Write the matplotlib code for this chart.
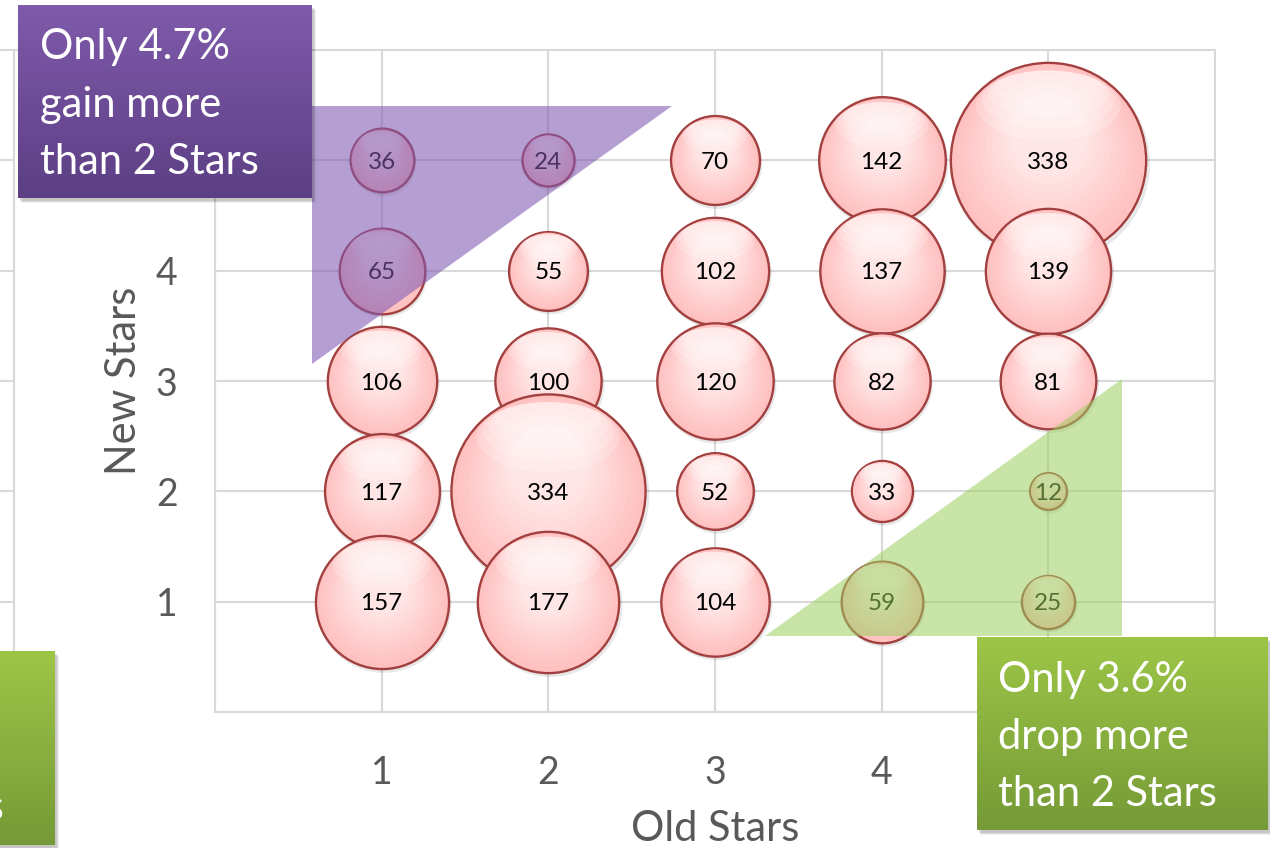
import numpy as np
import matplotlib
matplotlib.use('Agg')
import matplotlib.pyplot as plt
from matplotlib.path import Path
from matplotlib.patches import Polygon, Rectangle
from matplotlib.transforms import Affine2D
from matplotlib.colors import to_rgb

plt.rcParams['font.family'] = ['Lato', 'DejaVu Sans']

# --- data: number of reviews per (old stars, new stars) cell
old_stars = [1, 2, 3, 4, 5]
new_stars = [5, 4, 3, 2, 1]
counts = [
    [36, 24, 70, 142, 338],    # new stars = 5
    [65, 55, 102, 137, 139],   # new stars = 4
    [106, 100, 120, 82, 81],   # new stars = 3
    [117, 334, 52, 33, 12],    # new stars = 2
    [157, 177, 104, 59, 25],   # new stars = 1
]
tick_vals = [0, 1, 2, 3, 4, 5, 6]
# 5 sits under the note boxes in the original, so it is left blank
tick_text = ['', '1', '2', '3', '4', '', '']
gain_note = ['Only 4.7%', 'gain more', 'than 2 Stars']
drop_note = ['Only 3.6%', 'drop more', 'than 2 Stars']
# shaded corners, in (old stars, new stars) units
gain_tri = [(0.58, 3.155), (0.58, 5.49), (2.74, 5.49)]
drop_tri = [(3.30, 0.69), (5.44, 0.69), (5.44, 3.02)]

W, H = 1270, 848
bubble_scale = 58.5   # points^2 per review
grey = '#595959'
grid_c = '#d9d9d9'

fig = plt.figure(figsize=(W / 100, H / 100), dpi=100)
px = Affine2D().scale(1 / W, -1 / H).translate(0, 1) + fig.transFigure
ax = fig.add_axes([215 / W, 1 - 712 / H, 1000 / W, 662 / H])


def marker(*parts):
    # a lone point at radius 1 keeps matplotlib from rescaling the shapes
    anchor = Path([(0, -1)], [Path.MOVETO])
    return Path.make_compound_path(anchor, *parts)


base_c = np.array(to_rgb('#ffc0c0'))
light_c = np.array(to_rgb('#ffe6e6'))
layers = []
for k, r in enumerate(np.linspace(0.94, 0.40, 10)):
    t = (k + 1) / 10
    layers.append((marker(Path.circle((0, 0.4 * (1 - r)), r)),
                   tuple(base_c * (1 - t) + light_c * t)))
gloss = []
for k, (sx, sy, cy) in enumerate([(0.74, 0.36, 0.56), (0.68, 0.30, 0.62),
                                  (0.62, 0.24, 0.68), (0.56, 0.18, 0.74)]):
    gloss.append(marker(Path.unit_circle().transformed(
        Affine2D().scale(sx, sy).translate(0, cy))))

for ny, row in zip(new_stars, counts):
    for ox, v in zip(old_stars, row):
        s = v * bubble_scale
        ax.scatter(ox + 0.012, ny - 0.03, s=s * 1.04, c='#000000', alpha=0.09,
                   edgecolors='none', zorder=3)
        ax.scatter(ox, ny, s=s, c=[base_c], edgecolors='#a23f3f',
                   linewidths=1.7, zorder=3)
        for path, col in layers:
            ax.scatter(ox, ny, s=s, marker=path, c=[col], edgecolors='none',
                       zorder=3)
        for path in gloss:
            ax.scatter(ox, ny, s=s, marker=path, c='white', alpha=0.22,
                       edgecolors='none', zorder=3)
        ax.text(ox, ny, str(v), ha='center', va='center_baseline',
                fontsize=17.5, color='black', zorder=4)

ax.add_patch(Polygon(gain_tri, closed=True, facecolor='#8058b0', alpha=0.58,
                     edgecolor='none', zorder=6))
ax.add_patch(Polygon(drop_tri, closed=True, facecolor='#9bcf5f', alpha=0.55,
                     edgecolor='none', zorder=6))

ax.set_xlim(0, 6)
ax.set_ylim(0, 6)
ax.set_xticks(tick_vals, tick_text)
ax.set_yticks(tick_vals, tick_text)
ax.tick_params(length=0, labelsize=27, labelcolor=grey)
ax.tick_params(axis='x', pad=31)
ax.tick_params(axis='y', pad=27)
ax.grid(color=grid_c, lw=1.5)
ax.set_axisbelow(True)
for sp in ax.spines.values():
    sp.set_color(grid_c)
    sp.set_linewidth(1.5)

ax.set_xlabel('Old Stars', fontsize=30, color=grey)
ax.set_ylabel('New Stars', fontsize=30, color=grey)
ax.xaxis.set_label_coords(0.5, -0.148)
ax.yaxis.set_label_coords(-0.072, 0.5)

# edge of another chart peeking out on the left
xf = -201 / (1000 / 6)
ax.plot([xf, xf], [0, 6], color=grid_c, lw=1.5, clip_on=False, zorder=1)
ax.plot([-1.4, 0], [6, 6], color=grid_c, lw=1.5, clip_on=False, zorder=1)
for yv in tick_vals[1:6]:
    ax.plot([-1.4, xf], [yv, yv], color=grid_c, lw=1.5, clip_on=False, zorder=1)


def note_box(x0, y0, x1, y1, top, bottom, lines, tx, baselines):
    for k, a in enumerate([0.10, 0.08, 0.06]):
        fig.add_artist(Rectangle((x0 + 2 + k, y0 + 3 + k), x1 - x0, y1 - y0,
                                 transform=px, facecolor='black', alpha=a,
                                 edgecolor='none', zorder=4))
    bax = fig.add_axes([x0 / W, 1 - y1 / H, (x1 - x0) / W, (y1 - y0) / H],
                       zorder=5)
    g = np.linspace(0, 1, 256)[:, None, None]
    img = (1 - g) * np.array(to_rgb(top)) + g * np.array(to_rgb(bottom))
    bax.imshow(img, aspect='auto', extent=[0, 1, 0, 1])
    bax.set_xlim(0, 1)
    bax.set_ylim(0, 1)
    bax.set_axis_off()
    for line, yb in zip(lines, baselines):
        bax.text(tx, yb, line, transform=px, color='white', fontsize=30,
                 ha='left', va='baseline')
    return bax


note_box(18, 5, 312, 198, '#7f5aab', '#5c3f84', gain_note, 40, [59, 117, 174])
note_box(977, 637, 1268, 830, '#9dc647', '#759a37', drop_note, 998,
         [692, 749, 806])
ax_cut = note_box(-236, 651, 55, 845, '#9dc647', '#759a37', drop_note[2:],
                  -215, [820])

fig.savefig('out.png', dpi=100)
